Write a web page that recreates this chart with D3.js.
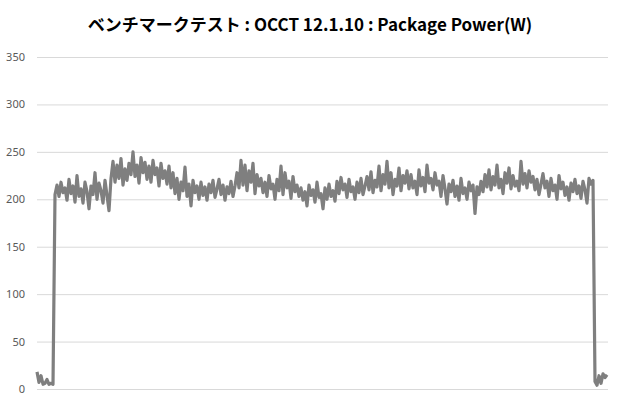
<!DOCTYPE html>
<html>
<head>
<meta charset="utf-8">
<script src="https://cdn.jsdelivr.net/npm/d3@7"></script>
<style>
  body { margin: 0; background: #fff; }
  svg { display: block; }
</style>
</head>
<body>
<svg id="chart" width="620" height="400"></svg>
<script>
const width = 620;
const height = 400;
const margin = { top: 57, right: 12, bottom: 11, left: 37 };

const title = "ベンチマークテスト : OCCT 12.1.10 : Package Power(W)";
const yTicks = [0, 50, 100, 150, 200, 250, 300, 350];

// idle before the run
const startValues = [18, 7, 14, 5, 6, 10, 5, 6, 5];

// under load
const loadValues = [
  205, 215, 203, 218, 207, 212, 199, 221, 206, 214, 197, 225, 203, 211, 196, 218, 208, 190, 214, 205, 228, 200, 217, 209, 196, 220, 204, 188, 222,
  240, 218, 236, 222, 243, 215, 232, 220, 238, 226, 250, 224, 236, 217, 244, 228, 239, 221, 235, 218, 241, 226, 233, 214, 238, 222, 230, 216, 235,
  212, 228, 206, 222, 200, 218, 209, 234, 203, 216, 193, 220, 207, 214, 200,
  218, 204, 213, 199, 216, 207, 220, 202, 211, 221, 205, 215, 199, 213, 206, 219, 203, 214,
  228, 212, 241, 215, 236, 209, 230, 218, 238, 206, 226, 214,
  222, 207, 218, 203, 225, 211, 216, 200, 221, 209, 235, 205, 228, 212, 219, 201, 224, 208, 215, 203,
  212, 199, 208, 193, 215, 204, 210, 197, 218, 202, 206, 190, 212, 200, 216, 203, 209, 198,
  219, 206, 223, 210, 216, 202, 221, 208, 213, 200, 218, 207, 222, 205, 214,
  224, 210, 229, 207, 220, 213, 235, 209, 226, 216, 240, 212, 228, 205, 221, 214, 233, 209, 225, 217, 230, 211,
  226, 212, 219, 205, 231, 214, 223, 208, 236, 217, 222, 210, 228, 215, 219, 203, 225, 211, 195, 216,
  208, 220, 203, 214, 199, 222, 206, 212, 200, 218, 209, 215, 185, 213, 205,
  219, 208, 226, 213, 231, 210, 224, 215, 236, 212, 221, 206, 228, 217, 233, 211, 225, 214, 219, 209, 240, 216, 227, 212, 230,
  218, 224, 210, 221, 205, 216, 227, 212, 219, 203, 222, 209, 215, 200, 225, 211, 218, 204, 213, 199, 217, 208, 221, 206, 214, 201, 219, 210, 196, 222, 216, 220
];

// idle after the run
const endValues = [8, 4, 14, 6, 16, 12, 15];

const values = startValues.concat(loadValues, endValues);

const svg = d3.select("#chart");

const x = d3.scaleLinear()
  .domain([0, values.length - 1])
  .range([margin.left, width - margin.right - 1]);

const y = d3.scaleLinear()
  .domain([0, 350])
  .range([height - margin.bottom, margin.top]);

svg.append("text")
  .attr("x", 310)
  .attr("y", 31)
  .attr("text-anchor", "middle")
  .attr("font-family", "'Noto Sans CJK JP', 'Noto Sans', sans-serif")
  .attr("font-weight", "bold")
  .attr("font-size", 17)
  .attr("fill", "#000")
  .text(title);

const yAxis = svg.append("g")
  .attr("transform", `translate(${margin.left},0)`)
  .call(d3.axisLeft(y)
    .tickValues(yTicks)
    .tickSize(-(width - margin.left - margin.right))
    .tickPadding(12));

yAxis.select(".domain").remove();
yAxis.selectAll(".tick line")
  .attr("stroke", "#d9d9d9")
  .attr("stroke-width", 1);
yAxis.selectAll(".tick text")
  .attr("fill", "#595959")
  .attr("font-family", "'Noto Sans', sans-serif")
  .attr("font-size", 11);

const line = d3.line()
  .x((d, i) => x(i))
  .y((d) => y(d));

svg.append("path")
  .datum(values)
  .attr("fill", "none")
  .attr("stroke", "#7f7f7f")
  .attr("stroke-width", 3.2)
  .attr("stroke-linejoin", "round")
  .attr("d", line);
</script>
</body>
</html>
